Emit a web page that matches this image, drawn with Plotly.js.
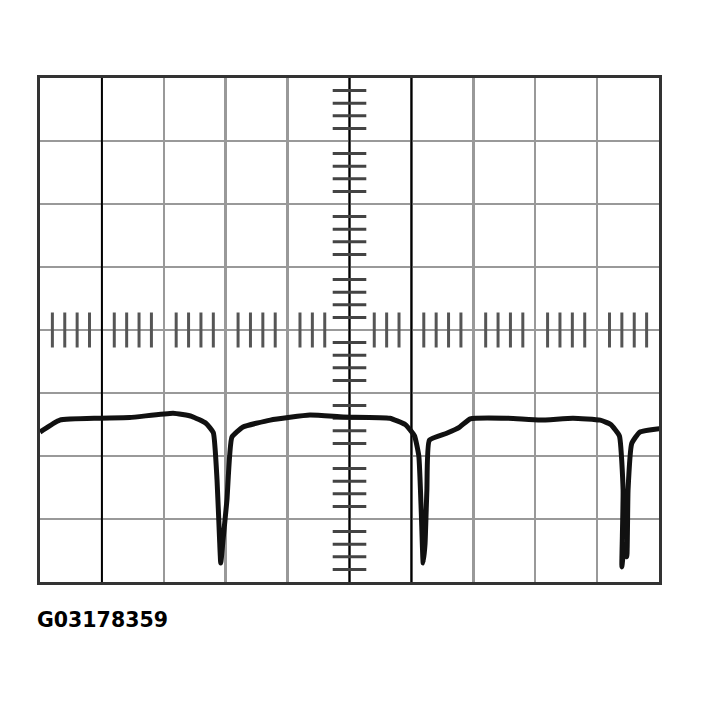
<!DOCTYPE html>
<html>
<head>
<meta charset="utf-8">
<script src="https://cdn.plot.ly/plotly-3.0.1.min.js"></script>
<style>
  body { margin: 0; background: #fff; }
  #scope { width: 704px; height: 706px; }
</style>
</head>
<body>
<div id="scope"></div>
<script>
// trace, x in divisions (0-10), y in divisions (-4..4)
var traceX = [0, 0.32, 0.95, 1.45, 2.15, 2.45, 2.68, 2.80, 2.86, 2.90, 2.92, 2.96, 3.02, 3.10, 3.28, 3.72, 4.36, 4.90, 5.65, 5.90, 6.05, 6.12, 6.16, 6.19, 6.22, 6.25, 6.29, 6.57, 6.78, 6.95, 7.54, 8.08, 8.61, 9.05, 9.22, 9.36, 9.42, 9.40, 9.44, 9.48, 9.50, 9.56, 9.69, 10.06];
var traceY = [-1.62, -1.43, -1.40, -1.39, -1.32, -1.37, -1.48, -1.63, -2.38, -3.30, -3.70, -3.30, -2.70, -1.70, -1.54, -1.43, -1.35, -1.38, -1.40, -1.50, -1.68, -2.00, -2.90, -3.70, -3.40, -2.54, -1.75, -1.64, -1.54, -1.41, -1.40, -1.43, -1.40, -1.43, -1.50, -1.68, -2.54, -3.76, -3.40, -3.60, -2.54, -1.80, -1.62, -1.56];

// graticule
var divisionsX = 10;
var divisionsY = 8;
var subdiv = 5;
var darkLines = [1, 5, 6];   // vertical grid lines printed in black

// minor marks on the centre cross
var hMarksX = [];
for (var i = 0; i < divisionsX * subdiv; i++) {
  var v = i / subdiv;
  if (i % subdiv === 0) continue;
  if (Math.abs(v - 5) < 0.3) continue;
  hMarksX.push(v);
}
var vMarksY = [];
for (var j = 1; j < divisionsY * subdiv; j++) {
  if (j % subdiv === 0) continue;
  vMarksY.push(j / subdiv - divisionsY / 2);
}

var data = [
  {
    type: "scatter", mode: "markers",
    x: hMarksX, y: hMarksX.map(function () { return 0; }),
    marker: { symbol: "line-ns", size: 25, line: { color: "#555", width: 3 } },
    hoverinfo: "skip"
  },
  {
    type: "scatter", mode: "markers",
    x: vMarksY.map(function () { return 5; }), y: vMarksY,
    marker: { symbol: "line-ew", size: 24, line: { color: "#444", width: 3 } },
    hoverinfo: "skip"
  },
  {
    type: "scatter", mode: "lines",
    x: traceX, y: traceY,
    line: { color: "#111", width: 5, shape: "spline", smoothing: 0.4 },
    cliponaxis: false
  }
];

var shapes = darkLines.map(function (d) {
  return { type: "line", xref: "x", yref: "y", x0: d, x1: d, y0: -4, y1: 4,
           line: { color: "#000", width: 2 }, layer: "between" };
});

var layout = {
  width: 704,
  height: 706,
  margin: { l: 40, r: 45, t: 78, b: 124 },
  paper_bgcolor: "#fff",
  plot_bgcolor: "#fff",
  showlegend: false,
  xaxis: {
    range: [0, divisionsX], dtick: 1, showticklabels: false, ticks: "",
    showgrid: true, gridcolor: "#999", gridwidth: 2.5, zeroline: false,
    showline: true, mirror: true, linecolor: "#333", linewidth: 3
  },
  yaxis: {
    range: [-divisionsY / 2, divisionsY / 2], dtick: 1, showticklabels: false, ticks: "",
    showgrid: true, gridcolor: "#999", gridwidth: 2.5, zeroline: false,
    showline: true, mirror: true, linecolor: "#333", linewidth: 3
  },
  shapes: shapes,
  annotations: [{
    text: "G03178359", xref: "paper", yref: "paper", x: -0.008, y: -0.075,
    xanchor: "left", yanchor: "middle", showarrow: false,
    font: { family: "DejaVu Sans", size: 20.5, weight: "bold", color: "#000" }
  }]
};

Plotly.newPlot("scope", data, layout, { staticPlot: true });
</script>
</body>
</html>
